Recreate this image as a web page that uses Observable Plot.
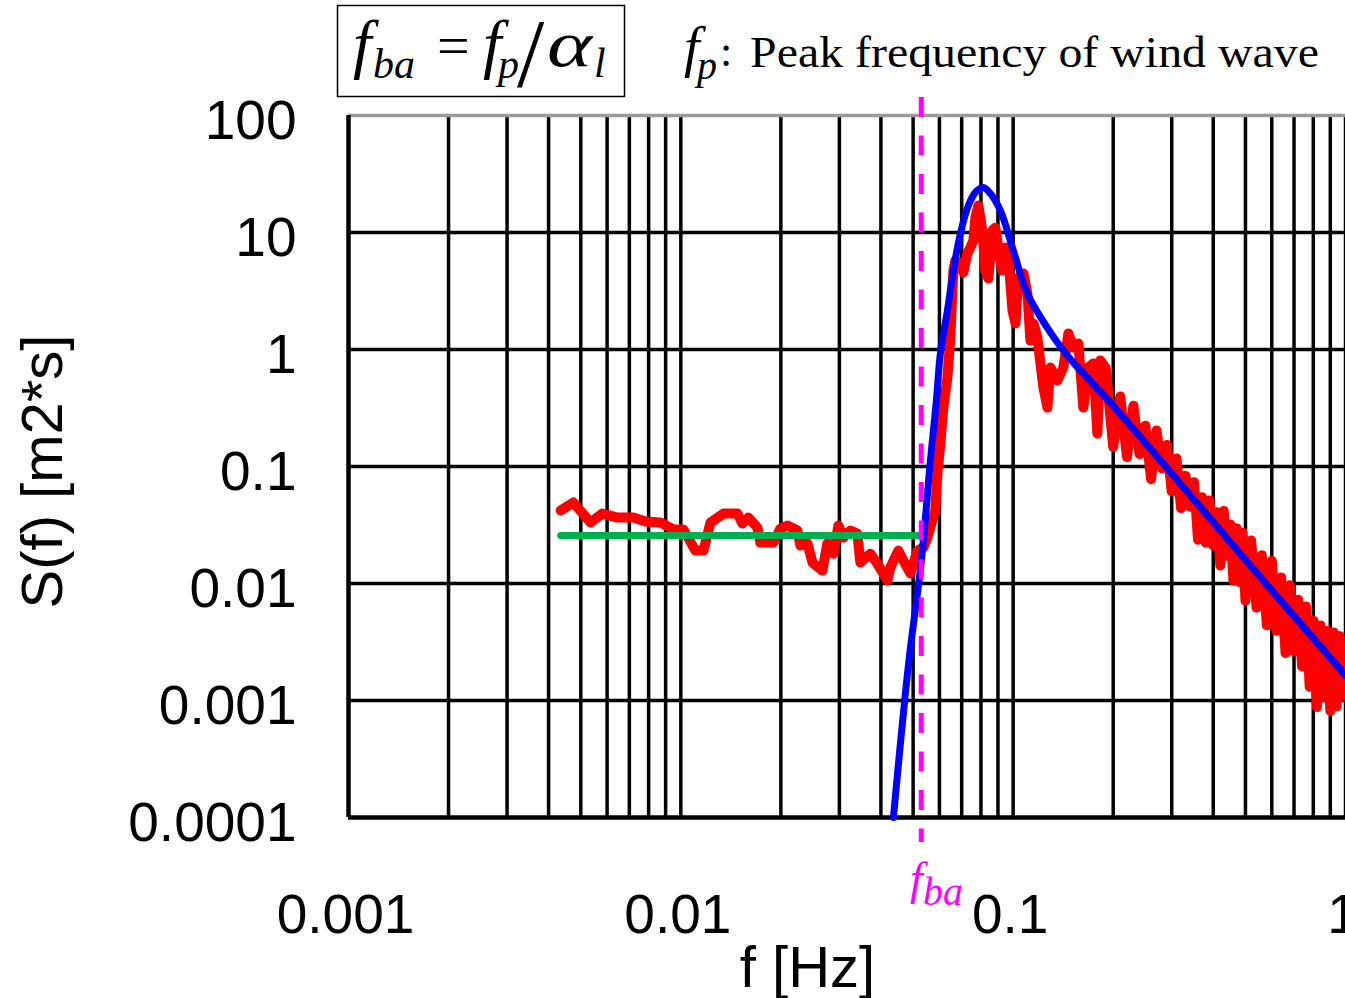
<!DOCTYPE html>
<html><head><meta charset="utf-8">
<script src="https://cdn.jsdelivr.net/npm/d3@7"></script>
<script src="https://cdn.jsdelivr.net/npm/@observablehq/plot@0.6"></script>
<style>
html,body{margin:0;padding:0;background:#fff;}
#chart{position:relative;width:1345px;height:998px;overflow:hidden;}
</style></head><body><div id="chart"></div>
<script>
// ---- ticks ----
const xTicks = [0.001, 0.01, 0.1, 1];
const xTickLabels = ["0.001", "0.01", "0.1", "1"];
const yTicks = [0.0001, 0.001, 0.01, 0.1, 1, 10, 100];
const yTickLabels = ["0.0001", "0.001", "0.01", "0.1", "1", "10", "100"];
const xGrid = [0.002,0.003,0.004,0.005,0.006,0.007,0.008,0.009,0.01,
               0.02,0.03,0.04,0.05,0.06,0.07,0.08,0.09,0.1,
               0.2,0.3,0.4,0.5,0.6,0.7,0.8,0.9,1];
const yGrid = [0.001, 0.01, 0.1, 1, 10];

// ---- measured spectrum (red) ----
const redLowF = [0.00435,0.00475,0.00535,0.00581,0.00645,0.00720,0.00783,0.00868,0.00950,0.01018,0.01106,0.0117,0.01228,0.01343,0.01480,0.01532,0.01597,0.01700,0.01734,0.0190,0.01994,0.02093,0.02243,0.0229,0.02404,0.02489,0.02667,0.0276,0.02878,0.02979,0.03084,0.03237,0.03397,0.03469,0.03716,0.03902,0.04183,0.04271,0.04514,0.04673,0.04906,0.05149,0.05369,0.0552,0.0583];
const redLowS = [0.0421,0.0492,0.0332,0.0396,0.0366,0.0366,0.0339,0.0332,0.0290,0.0290,0.0191,0.0191,0.0332,0.0396,0.0396,0.0326,0.0366,0.0301,0.0224,0.0224,0.0295,0.0313,0.0284,0.0211,0.0220,0.0151,0.0129,0.0220,0.0180,0.0313,0.0247,0.0284,0.0267,0.0151,0.0180,0.0148,0.0106,0.0137,0.0191,0.0157,0.0122,0.0191,0.0203,0.0247,0.0421];
const redPeakF = [0.05916,0.06039,0.06166,0.0634,0.06473,0.06562,0.06609,0.0670,0.06937,0.07083,0.07282,0.07435,0.07592,0.07696,0.07858,0.08078,0.08248,0.08421,0.08657,0.0884,0.09017,0.09268,0.0948,0.09675,0.09954,0.1016,0.1037,0.1074,0.1104,0.1127,0.1151,0.1183,0.1208,0.1233,0.1268,0.1294,0.1358,0.1416,0.1466,0.1517,0.1571,0.1626,0.1684,0.1743,0.1792,0.1829];
const redPeakS = [0.0871,0.1574,0.3192,0.5768,1.267,3.19,4.73,5.77,5.43,4.55,6.62,7.44,8.55,13.4,17.0,10.4,4.73,4.04,10.4,11.0,7.44,4.73,7.44,6.11,2.15,1.67,4.12,4.46,3.01,1.19,1.67,1.267,0.759,0.473,0.3192,0.702,0.543,0.702,1.37,1.04,1.125,0.3192,0.702,0.759,0.191,0.805];
const redTailF = [0.19,0.20,0.21,0.22,0.23,0.24,0.25,0.26,0.27,0.28,0.29,0.30,0.31,0.32,0.33,0.34,0.35,0.36,0.37,0.38,0.39,0.40,0.41,0.42,0.43,0.44,0.45,0.46,0.47,0.48,0.49,0.50,
  0.52,0.54,0.56,0.58,0.60,0.62,0.64,0.66,0.68,0.70,0.72,0.74,0.76,0.78,0.80,0.82,0.84,0.86,0.88,0.90,0.92,0.94,0.96,0.98,1.00];
const redTailS = [0.693,0.147,0.396,0.1205,0.330,0.1276,0.223,0.0780,0.203,0.0966,0.153,0.0612,0.1172,0.0441,0.0832,0.0454,0.0735,0.0237,0.0545,0.0223,0.0513,0.0211,0.0406,0.01426,0.0417,0.01726,0.0320,0.01057,0.0297,0.01030,0.0271,0.00714,
  0.0233,0.00622,0.01746,0.00439,0.01560,0.00394,0.01125,0.00255,0.00964,0.00264,0.00728,0.00196,0.00637,0.00131,0.00480,0.000881,0.00438,0.001064,0.00393,0.000817,0.00381,0.000891,0.00355,0.001096,0.00205];

// ---- fitted spectrum (blue) ----
const blueF = [0.04362,0.04838,0.05294,0.05636,0.05875,0.06039,0.0634,0.06609,0.06937,0.07332,0.07696,0.08135,0.0854,0.09151,0.1001,0.1103,0.1294,0.1456,0.1593,0.1961,0.3034,0.5171,1.0];
const blueS = [0.0001,0.00199,0.01573,0.1125,0.3664,0.9247,2.154,4.73,9.80,17.0,21.98,24.2,21.5,15.4,7.02,3.01,1.40,0.889,0.662,0.352,0.0838,0.01425,0.001636];

// ---- low-frequency level (green) and f_ba ----
const greenF = [0.00435, 0.0526];
const greenS = [0.0257, 0.0257];
const fba = 0.0529;

const zip = (F, S) => F.map((f, i) => ({f, S: S[i]}));
const red = zip(redLowF, redLowS).concat(zip(redPeakF, redPeakS), zip(redTailF, redTailS));
const blue = zip(blueF, blueS);
const green = zip(greenF, greenS);

const sans = "Liberation Sans, Arial, sans-serif";

const chart = Plot.plot({
  width: 1345, height: 998,
  marginLeft: 348, marginRight: 0, marginTop: 115, marginBottom: 181,
  x: {type: "log", domain: [0.001, 1]},
  y: {type: "log", domain: [0.0001, 100]},
  style: {background: "#fff", fontFamily: sans, overflow: "visible"},
  marks: [
    Plot.ruleX(xGrid, {y1: 0.0001, y2: 100, stroke: "#000", strokeWidth: 3.5}),
    Plot.ruleY(yGrid, {stroke: "#000", strokeWidth: 3.5}),
    Plot.ruleY([100], {stroke: "#9a9a9a", strokeWidth: 3.5}),
    Plot.ruleY([0.0001], {stroke: "#000", strokeWidth: 4.5}),
    Plot.ruleX([0.001], {stroke: "#000", strokeWidth: 4.5}),
    Plot.line(red, {x: "f", y: "S", stroke: "#ff0000", strokeWidth: 10, strokeLinejoin: "round", strokeLinecap: "round"}),
    Plot.line(green, {x: "f", y: "S", stroke: "#00b050", strokeWidth: 7}),
    Plot.line(blue, {x: "f", y: "S", stroke: "#0000ff", strokeWidth: 7, curve: "catmull-rom"}),
    Plot.ruleX([fba], {stroke: "#ff00ff", strokeWidth: 5, strokeDasharray: "20 18.5", insetTop: -18, insetBottom: -25}),
    Plot.axisY(yTicks, {anchor: "left", tickSize: 0, tickPadding: 52, dy: 6, fontSize: 55, fontFamily: sans,
      tickFormat: d => yTickLabels[yTicks.indexOf(d)], label: null}),
    Plot.axisX(xTicks, {anchor: "bottom", tickSize: 0, tickPadding: 76, dx: -3, fontSize: 55, fontFamily: sans,
      tickFormat: d => xTickLabels[xTicks.indexOf(d)], label: null}),
    Plot.text(["f [Hz]"], {frameAnchor: "bottom-left", text: d => d, dx: 807 - 348, dy: 968 - 817,
      fontSize: 58, fontFamily: sans, textAnchor: "middle", lineAnchor: "middle", fill: "#000"}),
    Plot.text(["S(f) [m2*s]"], {frameAnchor: "left", text: d => d, rotate: -90, dx: 43 - 348, dy: 5,
      fontSize: 58, fontFamily: sans, textAnchor: "middle", lineAnchor: "middle", fill: "#000"})
  ]
});
document.getElementById("chart").appendChild(chart);

// ---- annotations ----
const svg = d3.select(chart);
const serif = "'Times New Roman', 'Liberation Serif', Times, serif";
const g = svg.append("g");
function t(txt, x, y, size, opts = {}) {
  const el = g.append("text").attr("x", x).attr("y", y)
    .style("font-family", serif)
    .style("font-size", size + "px")
    .style("text-anchor", "start")
    .style("font-style", opts.italic ? "italic" : "normal")
    .style("fill", opts.fill || "#000").text(txt);
  if (opts.len) el.attr("textLength", opts.len).attr("lengthAdjust", "spacingAndGlyphs");
  return el;
}
g.append("rect").attr("x", 337.5).attr("y", 5.5).attr("width", 287).attr("height", 91)
  .attr("fill", "none").attr("stroke", "#000").attr("stroke-width", 1.5);
t("f", 353, 66, 66, {italic: true});
t("ba", 373, 78, 42, {italic: true});
t("=", 437, 65, 58);
t("f", 483, 66, 66, {italic: true});
t("p", 498, 78, 42, {italic: true});
t("/", 517, 86, 98);
t("α", 547, 66, 66, {italic: true, len: 45});
t("l", 594, 77, 42, {italic: true});

t("f", 684, 66, 56, {italic: true});
t("p", 697, 79, 40, {italic: true});
t(":", 720, 66, 44);
t("Peak frequency of wind wave", 750, 67, 45, {len: 569});

t("f", 910, 894, 46, {italic: true, fill: "#ff00ff"});
t("ba", 923, 905, 40, {italic: true, fill: "#ff00ff"});
</script>
</body></html>
